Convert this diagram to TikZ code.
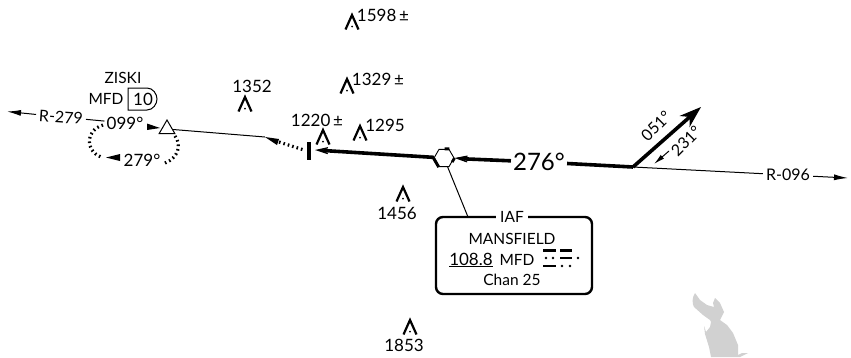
\documentclass[tikz,border=0pt]{standalone}
\usepackage{fontspec}
\setmainfont{Lato}
\usetikzlibrary{arrows.meta,shapes.geometric,calc}
\definecolor{lakegray}{gray}{0.82}
\tikzset{
    lbl/.style={inner sep=2pt,font=\fontsize{15.5}{17}\selectfont},
    numlbl/.style={inner sep=2pt,font=\fontsize{17}{19}\selectfont},
    radlbl/.style={inner sep=3pt,font=\fontsize{16}{18}\selectfont},
    biglbl/.style={inner sep=2pt,font=\fontsize{24}{26}\selectfont},
    thin line/.style={line width=1pt},
    heavy line/.style={line width=3.6pt},
    holdline/.style={line width=3.2pt,dash pattern=on 1.6pt off 3pt},
    heavyhead/.style={-{Stealth[length=20pt,width=11pt,inset=13pt]}},
    solidhead/.style={-{Latex[length=14pt,width=6pt]}},
    smallhead/.style={-{Latex[length=11pt,width=5pt]}},
    pics/peak/.style={code={
        \draw[line width=2.2pt,miter limit=10] (-6.5,14.5) -- (0,0) -- (6.5,14.5);
        \fill (0,11.5) circle (1pt);
    }}
}
\begin{document}
\begin{tikzpicture}[x=1pt,y=-1pt,>=latex]
    \useasboundingbox (0,0) rectangle (851,357);
    % lake
    \fill[lakegray] (695,293) .. controls (692,297) and (692,304) .. (694,307)
        -- (703,315) -- (710,320) -- (711,322) -- (710,327) -- (706,332) -- (704,326)
        -- (705,334) -- (709,347) -- (711,357) -- (740,357) -- (748,353) -- (742,353)
        -- (738,355) -- (738,345) -- (733,333) -- (727,325) -- (720,320) -- (724,312)
        -- (720,303) -- (715,298) -- (713,303) -- (714,307) -- (707,305) -- (700,300) -- cycle;

    % terrain
    \path (352,15) pic {peak};
    \path (347,79) pic {peak};
    \path (245,97) pic {peak};
    \path (323,130) pic {peak};
    \path (360,126) pic {peak};
    \path (403,187) pic {peak};
    \path (410,320) pic {peak};
    \node[numlbl] (elevA) at (383,15)  {1598\,±};
    \node[numlbl] (elevB) at (378,79)  {1329\,±};
    \node[numlbl] (elevC) at (252,86)  {1352};
    \node[numlbl] (elevD) at (317,120) {1220\,±};
    \node[numlbl] (elevE) at (385,125) {1295};
    \node[numlbl] (elevF) at (397,213) {1456};
    \node[numlbl] (elevG) at (404,345) {1853};

    % fix and holding pattern
    \node[lbl] (ziski) at (123,78) {ZISKI};
    \node[lbl] (mfdz)  at (106,99) {MFD};
    \node[numlbl] (dist)  at (143,99) {10};
    \draw[line width=1pt] (128,88) -- (147,88) .. controls (153,88) and (157,94) .. (157,99)
        .. controls (157,104) and (153,110) .. (147,110) -- (128,110) -- cycle;
    \node[draw,line width=1pt,fill=white,regular polygon,regular polygon sides=3,
        inner sep=0pt,minimum size=18pt] (fix) at (167,129) {};
    \node[radlbl,rotate=-4] (rleft) at (61,117) {R-279};
    \node[numlbl] (outhold) at (125,123) {099°};
    \node[numlbl] (inhold)  at (142,160) {279°};
    \coordinate (leftend) at (7,111.5);
    \coordinate (holdA) at (103,125);
    \coordinate (holdB) at (101,157);
    \coordinate (holdC) at (175,136);
    \coordinate (holdD) at (165,163);
    \coordinate (tipA) at (160,128);
    \coordinate (tipB) at (106,157.5);
    \coordinate (turnend) at (265,137);
    \coordinate (dotstart) at (279,142);
    \coordinate (dotend) at (304,150);

    % course lines
    \node[biglbl] (course) at (539,162) {276°};
    \node[radlbl] (rright) at (788,175) {R-096};
    \node[radlbl,rotate=45] (outb) at (656,126) {051°};
    \node[radlbl,rotate=45] (inb)  at (686,141) {231°};
    \node[draw,line width=0.9pt,fill=white,regular polygon,regular polygon sides=6,
        inner sep=0pt,minimum size=20pt] (iaf) at (444,158) {};
    \coordinate (bend) at (633,167);
    \coordinate (uptip) at (701,107);
    \coordinate (rightend) at (848,178);
    \coordinate (barA) at (309,142);
    \coordinate (barB) at (309,160);
    \coordinate (stop) at (315,150);
    \coordinate (smallA) at (669,151);
    \coordinate (smallB) at (654,164);

    \path
        (rleft)    edge[thin line,solidhead]  (leftend)
                   edge[thin line]            (outhold)
        (fix)      edge[thin line]            (turnend)
        (dotstart) edge[holdline]             (dotend)
        (iaf)      edge[heavy line,shorten >=9pt] (stop)
        (course)   edge[heavy line,shorten >=9pt] (iaf)
                   edge[heavy line]           (bend)
        (bend)     edge[heavy line,shorten >=12pt] (uptip)
                   edge[thin line]            (rright)
        (rright)   edge[thin line,solidhead]  (rightend)
        (smallA)   edge[thin line,smallhead]  (smallB);
    \draw[line width=4.5pt] (barA) -- (barB);
    \draw[thin line] (iaf) -- (468,217);
    \draw[thin line,heavyhead] (345,151.5) -- (stop);
    \draw[thin line,heavyhead] (480,160) -- (iaf.east);
    \draw[line width=1pt,-{Stealth[length=22pt,width=15pt,inset=7pt]}] (675,130) -- (uptip);
    \fill (turnend) -- (279,139) -- (277,145) -- cycle;

    % holding turns
    \draw[holdline] (holdA) .. controls (86,130) and (84,150) .. (holdB);
    \draw[holdline] (holdC) .. controls (182,145) and (178,158) .. (holdD);
    \fill (tipA) -- (147,123.5) -- (147,130) -- cycle;
    \fill (tipB) -- (120,154) -- (120,161) -- cycle;

    % hexagon marks
    \draw[line width=3pt] (iaf.corner 3) -- (iaf.corner 4);
    \draw[line width=2.8pt] (iaf.corner 1) -- ($(iaf.corner 1)!.45!(iaf.corner 2)$);
    \draw[line width=2.8pt] (iaf.corner 6) -- ($(iaf.corner 6)!.45!(iaf.corner 5)$);

    % navaid box
    \node[draw,line width=2.4pt,rounded corners=7pt,minimum width=156pt,minimum height=77pt,
        inner sep=0pt] (navbox) at (514,255.5) {};
    \node[lbl,fill=white,inner xsep=4pt,inner ysep=0pt] (iaflbl) at (512,217) {IAF};
    \node[lbl] (mansfield) at (512,239) {MANSFIELD};
    \node[numlbl] (freq) at (471,260) {\underline{108.8}};
    \node[lbl] (ident) at (517,260) {MFD};
    \node[lbl] (chan) at (512,280) {Chan 25};
    % morse
    \foreach \xa/\xb/\ya in {543/556/250.7,560/572/250.7,560/572/258,543/556/266}
        \fill (\xa,\ya-1.4) rectangle (\xb,\ya+1.4);
    \foreach \xa/\ya in {546/258,553/258,578/258,562/266,570/266}
        \fill (\xa,\ya) circle (1.3pt);
\end{tikzpicture}
\end{document}
